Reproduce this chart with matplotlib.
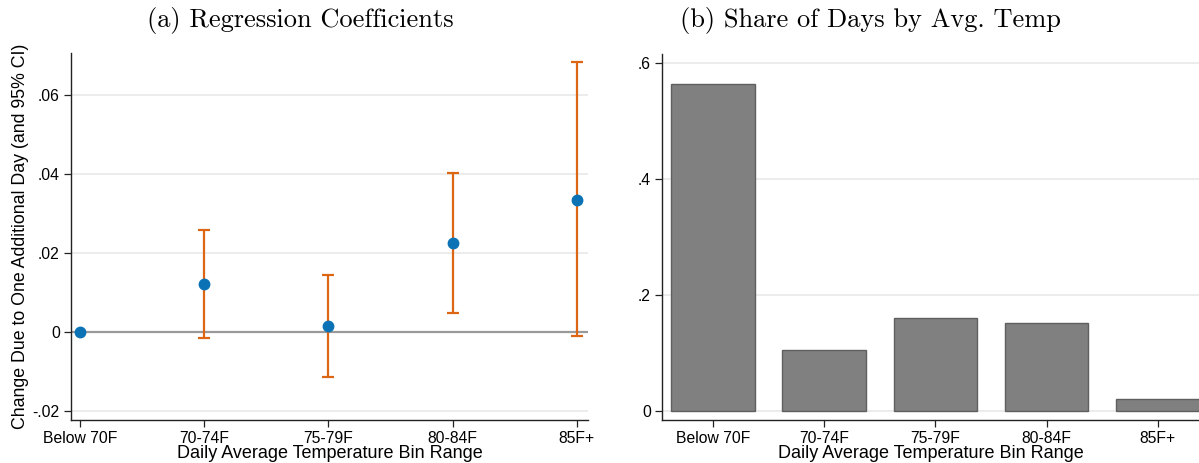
import matplotlib
matplotlib.use("Agg")
from matplotlib import pyplot as plt
import numpy as np

# temperature bins
bins = ["Below 70F", "70-74F", "75-79F", "80-84F", "85F+"]

# regression coefficients with 95% CI (first bin is the omitted category)
coef = [0.0, 0.0122, 0.0016, 0.0226, 0.0335]
ci_low = [0.0, -0.0015, -0.0113, 0.0047, -0.0010]
ci_high = [0.0, 0.0258, 0.0145, 0.0403, 0.0683]

# share of days falling in each bin
share = [0.563, 0.106, 0.160, 0.151, 0.021]

plt.rcParams["font.family"] = ["Liberation Sans", "DejaVu Sans"]
plt.rcParams["font.size"] = 11.3

blue = "#0a72b5"
orange = "#dc6614"
grid_c = "#e9e9e9"

fig = plt.figure(figsize=(11.99, 4.63), dpi=100)
ax1 = fig.add_axes([0.0592, 0.0929, 0.4312, 0.7926])
ax2 = fig.add_axes([0.5521, 0.0929, 0.4479, 0.7905])

x = np.arange(len(bins))


def style(ax):
    for s in ["top", "right"]:
        ax.spines[s].set_visible(False)
    for s in ["left", "bottom"]:
        ax.spines[s].set_linewidth(1.0)
        ax.spines[s].set_color("#222222")
    ax.tick_params(direction="out", length=5, width=0.9, color="#222222", pad=3)
    ax.yaxis.grid(True, color=grid_c, linewidth=1.2)
    ax.set_axisbelow(True)
    ax.set_xticks(x)
    ax.set_xticklabels(bins)
    ax.set_xlabel("Daily Average Temperature Bin Range", fontsize=13, labelpad=-1)


# (a) coefficients
style(ax1)
ax1.axhline(0, color="#999999", linewidth=1.6, zorder=1)
est = np.array(coef)
lo = est - np.array(ci_low)
hi = np.array(ci_high) - est
for i in range(1, len(bins)):
    ax1.errorbar(x[i], est[i], yerr=[[lo[i]], [hi[i]]], fmt="none",
                 ecolor=orange, elinewidth=1.6, capsize=4, capthick=1.6, zorder=2)
ax1.plot(x, est, "o", color=blue, markersize=7.5, zorder=3)
ax1.set_xlim(-0.073, 4.09)
ax1.set_ylim(-0.0223, 0.0706)
ax1.set_yticks([-0.02, 0, 0.02, 0.04, 0.06])
ax1.set_yticklabels(["-.02", "0", ".02", ".04", ".06"])
ax1.set_ylabel("Change Due to One Additional Day (and 95% CI)", fontsize=12.8, labelpad=3)

# (b) share of days
style(ax2)
ax2.bar(x, share, width=0.75, color="#808080", edgecolor="#5f5f5f", linewidth=1.0, zorder=2)
ax2.set_xlim(-0.458, 4.37)
ax2.set_ylim(-0.0155, 0.6155)
ax2.set_yticks([0, 0.2, 0.4, 0.6])
ax2.set_yticklabels(["0", ".2", ".4", ".6"])

# panel titles
fig.text(300 / 1199, 1 - 20 / 463, "(a) Regression Coefficients",
         fontfamily="cmr10", fontsize=19, ha="center", va="center")
fig.text(870 / 1199, 1 - 20 / 463, "(b) Share of Days by Avg. Temp",
         fontfamily="cmr10", fontsize=19, ha="center", va="center")

fig.savefig("out.png", dpi=100)
